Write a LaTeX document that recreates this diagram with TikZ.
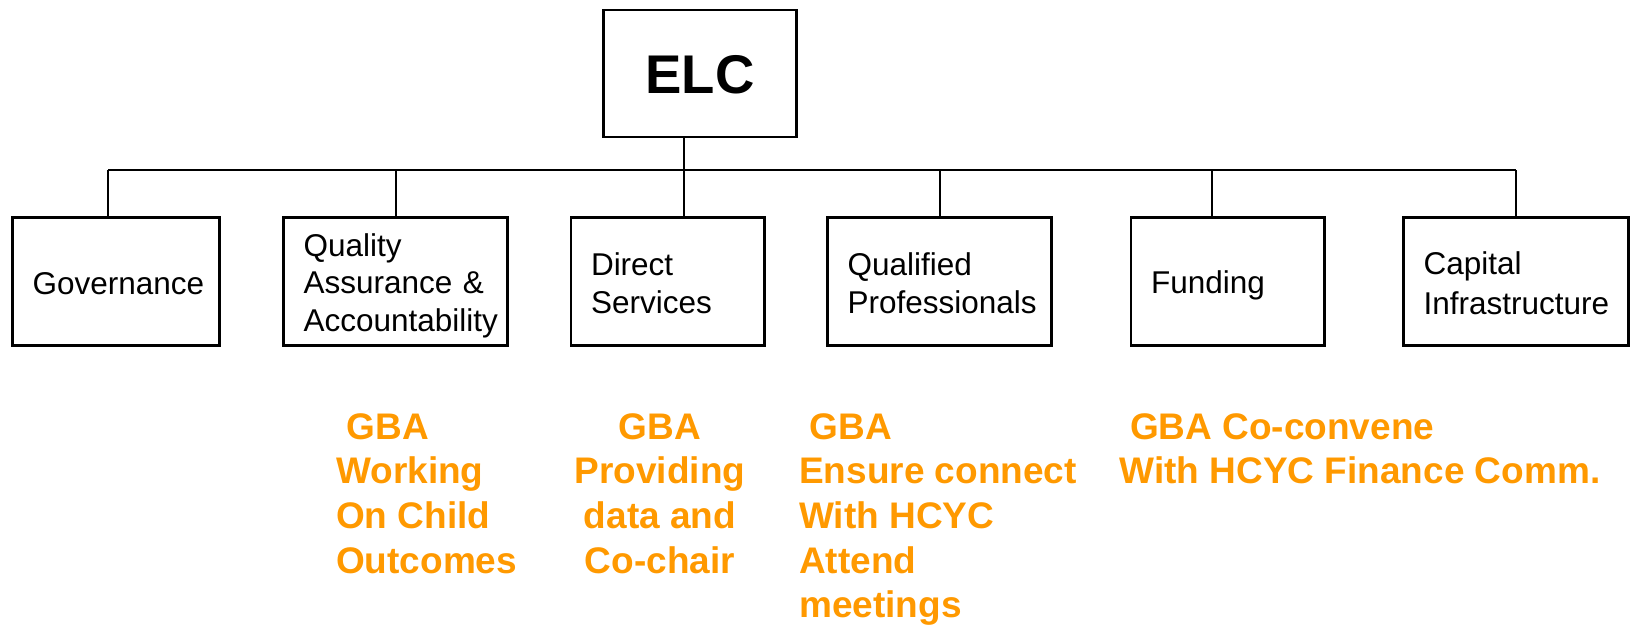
\documentclass[tikz,border=0pt]{standalone}
\usepackage{fontspec}
\setmainfont{Liberation Sans}
\definecolor{gbaorange}{RGB}{255,153,0}
\newcommand\unitfont{\fontsize{31.5}{37.3}\selectfont\hyphenpenalty=10000\exhyphenpenalty=10000\relax}
\newcommand\unitstrut{\rule[-5.5pt]{0pt}{37pt}}
\begin{document}
\begin{tikzpicture}[x=1pt,y=-1pt,
  unit/.style={draw, line width=2.3pt, outer sep=0pt, minimum height=128pt,
    inner xsep=20pt, inner ysep=0pt, align=left, anchor=west, text width=#1,
    font=\unitfont, execute at begin node=\unitstrut, execute at end node=\unitstrut},
  elcbox/.style={draw, line width=2.3pt, outer sep=0pt, minimum width=193pt,
    minimum height=127pt, font=\fontsize{54.5}{60}\selectfont\bfseries,
    text height=39pt, text depth=0pt},
  link/.style={line width=2.2pt},
  gba/.style={text=gbaorange, inner sep=0pt, align=left,
    font=\fontsize{37}{44.7}\selectfont\bfseries}]
\useasboundingbox (0,0) rectangle (1630,624);

% top box
\node[elcbox] (elc) at (700,73.5) {ELC};

% units
\node[unit=167pt]   (gov)  at (12.5,281.5)  {Governance};
\node[unit=184pt]   (qa)   at (283.5,281.5) {Quality\\Assurance~\&\\Accountability};
\node[unit=153.5pt] (ds)   at (571,281.5)   {Direct\\Services};
\node[unit=184pt]   (qp)   at (827.5,281.5) {Qualified\\Professionals};
\node[unit=153.5pt] (fund) at (1131,281.5)  {Funding};
\node[unit=185pt]   (cap)  at (1403.5,281.5) {Capital\\Infrastructure};

% bus coordinates
\coordinate (b1) at (108,170);
\coordinate (b2) at (396,170);
\coordinate (b3) at (684,170);
\coordinate (b4) at (940,170);
\coordinate (b5) at (1212,170);
\coordinate (b6) at (1516,170);

% connectors
\draw[link] (b3 |- elc.south) -- (b3);
\draw[link] (b1) -- (b6);
\draw[link] (b1) -- (b1 |- gov.north);
\draw[link] (b2) -- (b2 |- qa.north);
\draw[link] (b3) -- (b3 |- ds.north);
\draw[link] (b4) -- (b4 |- qp.north);
\draw[link] (b5) -- (b5 |- fund.north);
\draw[link] (b6) -- (b6 |- cap.north);

% GBA notes
\node[gba, anchor=north west] (g1) at (336,413)
  {\hspace*{.28em}GBA\\Working\\On Child\\Outcomes};
\node[gba, anchor=north, align=center] (g2) at (660,413)
  {GBA\\Providing\\data and\\Co-chair};
\node[gba, anchor=north west] (g3) at (799,413)
  {\hspace*{.28em}GBA\\Ensure connect\\With HCYC\\Attend\\meetings};
\node[gba, anchor=north west] (g4) at (1119.5,413)
  {\hspace*{.28em}GBA Co-convene\\With HCYC Finance Comm.};
\end{tikzpicture}
\end{document}
